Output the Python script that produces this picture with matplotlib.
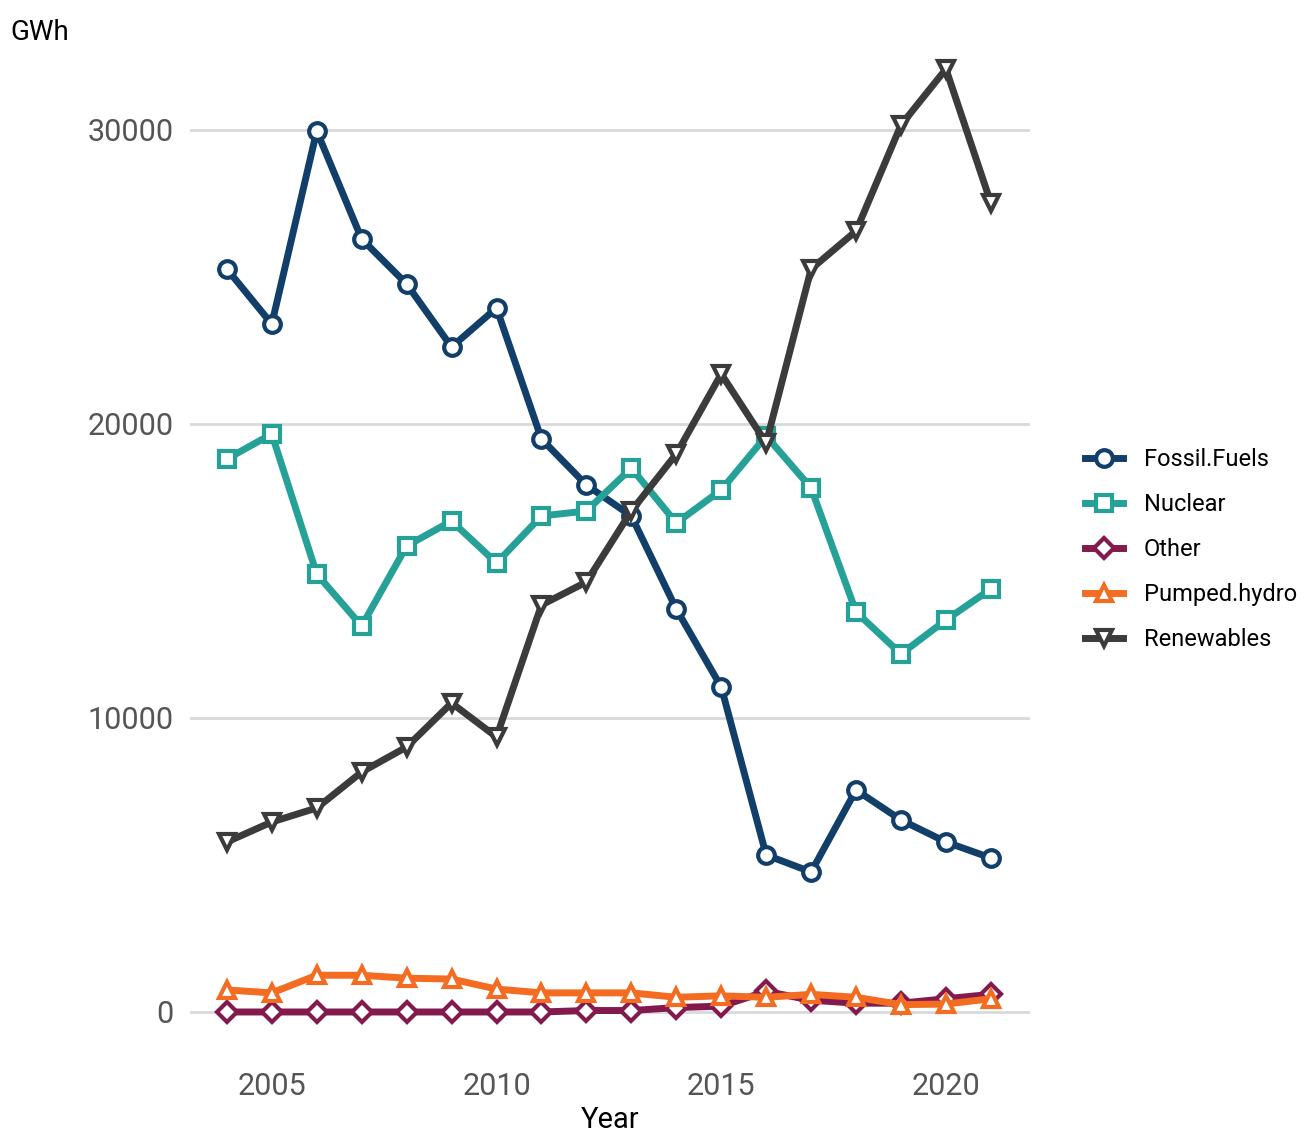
import matplotlib
matplotlib.use('Agg')
import matplotlib.pyplot as plt

plt.rcParams['font.family'] = ['Roboto', 'DejaVu Sans']

years = list(range(2004, 2022))
fossil = [25272, 23401, 29966, 26293, 24762, 22619, 23946, 19490, 17925, 16871,
          13707, 11054, 5340, 4762, 7551, 6531, 5782, 5238]
nuclear = [18810, 19660, 14898, 13129, 15850, 16701, 15272, 16871, 17041, 18503,
           16633, 17755, 19592, 17823, 13605, 12177, 13333, 14388]
other = [0, 0, 0, 0, 0, 0, 0, 0, 50, 50, 150, 200, 700, 400, 300, 300, 450, 600]
pumped = [750, 650, 1250, 1250, 1150, 1120, 780, 650, 650, 650, 500, 550, 500, 600,
          500, 250, 270, 450]
renew = [5782, 6463, 6939, 8163, 9014, 10510, 9354, 13844, 14626, 17041, 18980,
         21701, 19354, 25272, 26565, 30170, 32075, 27517]

series = [("Fossil.Fuels", fossil, "#123f6a", "o"),
          ("Nuclear", nuclear, "#26a197", "s"),
          ("Other", other, "#821a4d", "D"),
          ("Pumped.hydro", pumped, "#f36c21", "^"),
          ("Renewables", renew, "#3b3b3b", "v")]

fig = plt.figure(figsize=(13.09, 11.35), dpi=100)
ax = fig.add_axes([190 / 1309, 1 - 1055 / 1135, 840 / 1309, 1005 / 1135])
for name, vals, col, m in series:
    ms = 10 if m == "D" else 12
    ax.plot(years, vals, color=col, lw=5, marker=m, ms=ms, mfc='white',
            mec=col, mew=3, label=name)

ax.set_xlim(2003.18, 2021.87)
ax.set_ylim(-1463, 32721)
ax.set_xticks([2005, 2010, 2015, 2020])
ax.set_yticks([0, 10000, 20000, 30000])
ax.grid(axis='y', color='#d9d9d9', lw=2)
ax.set_axisbelow(True)
for s in ax.spines.values():
    s.set_visible(False)
ax.tick_params(length=0, labelsize=22, labelcolor='#555555', pad=12)
ax.set_xlabel("Year", fontsize=21, labelpad=4)
fig.text(10 / 1309, 1 - 33 / 1135, "GWh", fontsize=20, va='center')
ax.legend(loc='center left', bbox_to_anchor=(1.04, 0.503), frameon=False,
          fontsize=17, handlelength=1.6, labelspacing=0.93, handletextpad=0.9)
fig.savefig("out.png", dpi=100)
